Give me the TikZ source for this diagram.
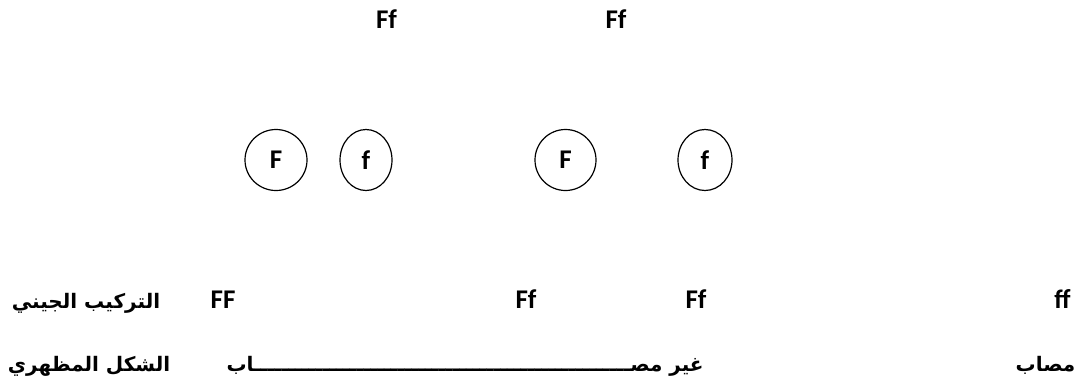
\documentclass[tikz,border=0pt]{standalone}
\usepackage{fontspec}
\setmainfont{Carlito}
\newfontfamily\arabicfont[Script=Arabic]{DejaVu Sans}
\TeXXeTstate=1
\usetikzlibrary{shapes.geometric}

\begin{document}
\begin{tikzpicture}[x=1pt, y=-1pt,
    lat/.style={anchor=base, inner sep=0pt, font=\fontsize{27}{31}\selectfont\bfseries},
    ara/.style={anchor=base, inner sep=0pt, font=\fontsize{20}{24}\selectfont\arabicfont\bfseries},
    gamete/.style={draw, line width=1.2pt, ellipse, inner sep=0pt, minimum height=61pt, font=\fontsize{27}{31}\selectfont\bfseries}]
    \useasboundingbox (0,0) rectangle (1086,389);
    % parents
    \node[lat] (p1) at (386.5,28) {Ff};
    \node[lat] (p2) at (616,28) {Ff};
    % gametes
    \node[gamete, minimum width=62pt] (g1) at (276,160) {F};
    \node[gamete, minimum width=52pt] (g2) at (366,160) {f};
    \node[gamete, minimum width=61pt] (g3) at (565.5,160) {F};
    \node[gamete, minimum width=54pt] (g4) at (705,160) {f};
    % التركيب الجيني
    \node[ara] (lgeno) at (86,308) {\beginR التركيب الجيني\endR};
    \node[lat] (c1) at (223,308) {FF};
    \node[lat] (c2) at (526,308) {Ff};
    \node[lat] (c3) at (696,308) {Ff};
    \node[lat] (c4) at (1062.5,308) {ff};
    % الشكل المظهري
    \node[ara] (lpheno) at (89,371) {\beginR الشكل المظهري\endR};
    \node[ara] (ph1) at (465,371) {\beginR غير مصـــــــــــــــــــــــــــــــــــــــــــــــــــــــاب\endR};
    \node[ara] (ph2) at (1045.5,371) {\beginR مصاب\endR};
\end{tikzpicture}
\end{document}
